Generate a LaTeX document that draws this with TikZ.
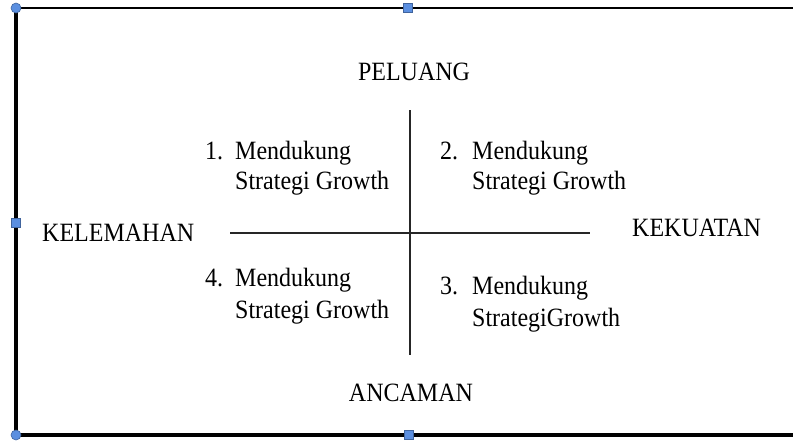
\documentclass[tikz,border=0pt]{standalone}
\usepackage{fontspec}
\setmainfont{Liberation Serif}
\newcommand{\tallstr}[1]{\scalebox{1}[1.1]{#1}}
\begin{document}
\begin{tikzpicture}[x=1pt,y=-1pt,
  lbl/.style={inner sep=0pt, anchor=base west, font=\fontsize{24}{28}\selectfont},
  handle/.style={fill=handleblue, draw=handleblue!70!black, line width=0.6pt},
  axis/.style={line width=1.6pt, draw=black!85}]
\definecolor{handleblue}{HTML}{5B8FE0}
\useasboundingbox (0,0) rectangle (793,442);
% frame of the text box (right side runs off the page)
\coordinate (tl) at (16,8);
\coordinate (bl) at (16,435);
\coordinate (tr) at (800,8);
\coordinate (br) at (800,435);
\draw[line width=1.9pt] (tl) -- (tr);
\draw[line width=3.4pt] (tl) -- (bl);
\draw[line width=3.4pt] (bl) -- (br);
% quadrant axes
\coordinate (hl) at (230,233);
\coordinate (hr) at (590,233);
\coordinate (vt) at (410,110);
\coordinate (vb) at (410,355);
\draw[axis] (hl) -- (hr);
\draw[axis] (vt) -- (vb);
% headings
\node[lbl, anchor=base] (peluang) at (414,80) {\tallstr{PELUANG}};
\node[lbl] (kelemahan) at (42,241) {\tallstr{KELEMAHAN}};
\node[lbl] (kekuatan) at (632,236) {\tallstr{KEKUATAN}};
\node[lbl, anchor=base] (ancaman) at (411,401) {\tallstr{ANCAMAN}};
% quadrant entries
\node[lbl] (n1) at (205,159) {\tallstr{1.}};
\node[lbl] (q1a) at (235,159) {\tallstr{Mendukung}};
\node[lbl] (q1b) at (235,189) {\tallstr{Strategi Growth}};
\node[lbl] (n2) at (440,159) {\tallstr{2.}};
\node[lbl] (q2a) at (472,159) {\tallstr{Mendukung}};
\node[lbl] (q2b) at (472,189) {\tallstr{Strategi Growth}};
\node[lbl] (n4) at (205,286) {\tallstr{4.}};
\node[lbl] (q4a) at (235,286) {\tallstr{Mendukung}};
\node[lbl] (q4b) at (235,318) {\tallstr{Strategi Growth}};
\node[lbl] (n3) at (440,294) {\tallstr{3.}};
\node[lbl] (q3a) at (472,294) {\tallstr{Mendukung}};
\node[lbl] (q3b) at (472,326) {\tallstr{StrategiGrowth}};
% selection handles
\node[handle, circle, inner sep=0pt, minimum size=10pt] (h1) at (tl) {};
\node[handle, circle, inner sep=0pt, minimum size=10pt] (h2) at (bl) {};
\node[handle, rectangle, inner sep=0pt, minimum size=9pt] (h3) at (408,8) {};
\node[handle, rectangle, inner sep=0pt, minimum size=9pt] (h4) at (16,223) {};
\node[handle, rectangle, inner sep=0pt, minimum size=9pt] (h5) at (409,435) {};
\end{tikzpicture}
\end{document}
